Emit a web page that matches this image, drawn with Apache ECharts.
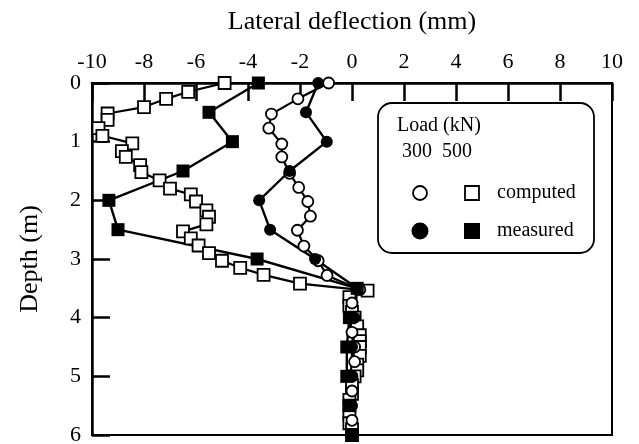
<!DOCTYPE html>
<html>
<head>
<meta charset="utf-8">
<script src="https://cdn.jsdelivr.net/npm/echarts@6/dist/echarts.min.js"></script>
<style>
  html, body { margin: 0; padding: 0; background: #fff; }
  #chart { width: 639px; height: 444px; }
</style>
</head>
<body>
<div id="chart"></div>
<script>
// 500 kN computed (open squares)
const depth500c = [0, 0.15, 0.27, 0.41, 0.52, 0.63, 0.77, 0.9, 1.03, 1.16, 1.26, 1.4, 1.52, 1.66, 1.8, 1.9, 2.02, 2.17, 2.28, 2.41, 2.53, 2.65, 2.77, 2.9, 3.03, 3.15, 3.27, 3.42, 3.54, 3.65, 3.8, 3.9, 4.0, 4.15, 4.3, 4.4, 4.5, 4.65, 4.8, 4.9, 5.0, 5.15, 5.3, 5.4, 5.5, 5.65, 5.8, 5.9, 6.0]
const defl500c = [-4.9, -6.3, -7.15, -8.0, -9.4, -9.4, -9.75, -9.6, -8.45, -8.85, -8.7, -8.15, -8.1, -7.4, -7.0, -6.2, -6.0, -5.6, -5.5, -5.6, -6.5, -6.2, -5.9, -5.5, -5.0, -4.3, -3.4, -2.0, 0.6, -0.1, -0.1, 0.0, 0.1, 0.2, 0.3, 0.3, 0.3, 0.3, 0.2, 0.2, 0.1, 0.0, 0.0, -0.1, -0.1, -0.1, -0.1, 0.0, 0.0]
// 500 kN measured (filled squares)
const depth500m = [0, 0.5, 1, 1.5, 2, 2.5, 3, 3.5, 4, 4.5, 5, 5.5, 6]
const defl500m = [-3.6, -5.5, -4.6, -6.5, -9.35, -9.0, -3.65, 0.2, -0.1, -0.2, -0.2, -0.1, 0.0]
// 300 kN computed (open circles)
const depth300c = [0, 0.27, 0.53, 0.77, 1.04, 1.26, 1.54, 1.78, 2.02, 2.27, 2.51, 2.78, 3.03, 3.28, 3.52, 3.75, 4.0, 4.25, 4.5, 4.75, 5.0, 5.25, 5.5, 5.75, 6.0]
const defl300c = [-0.9, -2.08, -3.1, -3.2, -2.7, -2.7, -2.4, -2.05, -1.7, -1.6, -2.1, -1.85, -1.3, -0.96, 0.3, 0.0, -0.1, 0.0, 0.1, 0.1, 0.0, 0.0, -0.1, 0.0, 0.0]
// 300 kN measured (filled circles)
const depth300m = [0, 0.5, 1, 1.5, 2, 2.5, 3, 3.5, 4, 4.5, 5, 5.5, 6]
const defl300m = [-1.3, -1.77, -0.97, -2.4, -3.57, -3.15, -1.42, 0.2, 0.1, 0.0, 0.0, 0.0, 0.0]

const font = 'Liberation Serif'

function pairs(xs, ys) {
    return xs.map((x, i) => [x, ys[i]])
}

function makeSeries(name, xs, ys, symbol, filled, size, lw) {
    return {
        name: name,
        type: 'line',
        data: pairs(xs, ys),
        symbol: symbol,
        symbolSize: size,
        showAllSymbol: true,
        lineStyle: { color: '#000', width: lw },
        itemStyle: {
            color: filled ? '#000' : '#fff',
            borderColor: '#000',
            borderWidth: filled ? 0 : 1.8
        },
        animation: false
    }
}

let chart = echarts.init(document.getElementById('chart'))
chart.setOption({
    backgroundColor: '#fff',
    animation: false,
    grid: {
        left: 92, right: 27, top: 83, bottom: 9,
        outerBoundsMode: 'none',
        containLabel: false,
        show: true, borderColor: '#000', borderWidth: 2
    },
    xAxis: {
        type: 'value',
        position: 'top',
        min: -10, max: 10, interval: 2,
        name: 'Lateral deflection (mm)',
        nameLocation: 'middle',
        nameGap: 48,
        nameTextStyle: { fontFamily: font, fontSize: 26, color: '#000' },
        axisLine: { show: true, onZero: false, lineStyle: { color: '#000', width: 2.5 } },
        axisTick: { show: true, inside: true, length: 18, lineStyle: { color: '#000', width: 2.5 } },
        axisLabel: { fontFamily: font, fontSize: 22, color: '#000', margin: 10 },
        splitLine: { show: false }
    },
    yAxis: {
        type: 'value',
        inverse: true,
        min: 0, max: 6, interval: 1,
        name: 'Depth (m)',
        nameLocation: 'middle',
        nameGap: 49,
        nameRotate: 90,
        nameTextStyle: { fontFamily: font, fontSize: 26, color: '#000' },
        axisLine: { show: true, onZero: false, lineStyle: { color: '#000', width: 2.5 } },
        axisTick: { show: true, inside: true, length: 18, lineStyle: { color: '#000', width: 2.5 } },
        axisLabel: { fontFamily: font, fontSize: 22, color: '#000', margin: 11 },
        splitLine: { show: false }
    },
    series: [
        makeSeries('500 computed', defl500c, depth500c, 'rect', false, 12, 2.2),
        makeSeries('300 computed', defl300c, depth300c, 'circle', false, 11, 2.2),
        makeSeries('500 measured', defl500m, depth500m, 'rect', true, 13, 2.4),
        makeSeries('300 measured', defl300m, depth300m, 'circle', true, 12, 2.4)
    ],
    graphic: [
        { type: 'rect', shape: { x: 378, y: 103, width: 216, height: 150, r: 14 },
          style: { fill: '#fff', stroke: '#000', lineWidth: 1.8 }, z: 10 },
        { type: 'text', x: 397, y: 116, z: 11,
          style: { text: 'Load (kN)', font: '20px "Liberation Serif"', fill: '#000' } },
        { type: 'text', x: 402, y: 142, z: 11,
          style: { text: '300  500', font: '20px "Liberation Serif"', fill: '#000' } },
        { type: 'circle', shape: { cx: 420, cy: 193, r: 7 }, z: 11,
          style: { fill: '#fff', stroke: '#000', lineWidth: 1.8 } },
        { type: 'rect', shape: { x: 465, y: 186, width: 14, height: 14 }, z: 11,
          style: { fill: '#fff', stroke: '#000', lineWidth: 1.8 } },
        { type: 'text', x: 497, y: 193, z: 11,
          style: { text: 'computed', font: '20px "Liberation Serif"', fill: '#000', verticalAlign: 'middle' } },
        { type: 'circle', shape: { cx: 420, cy: 231, r: 8.5 }, z: 11,
          style: { fill: '#000' } },
        { type: 'rect', shape: { x: 464, y: 223, width: 16, height: 16 }, z: 11,
          style: { fill: '#000' } },
        { type: 'text', x: 497, y: 231, z: 11,
          style: { text: 'measured', font: '20px "Liberation Serif"', fill: '#000', verticalAlign: 'middle' } }
    ]
})
</script>
</body>
</html>
